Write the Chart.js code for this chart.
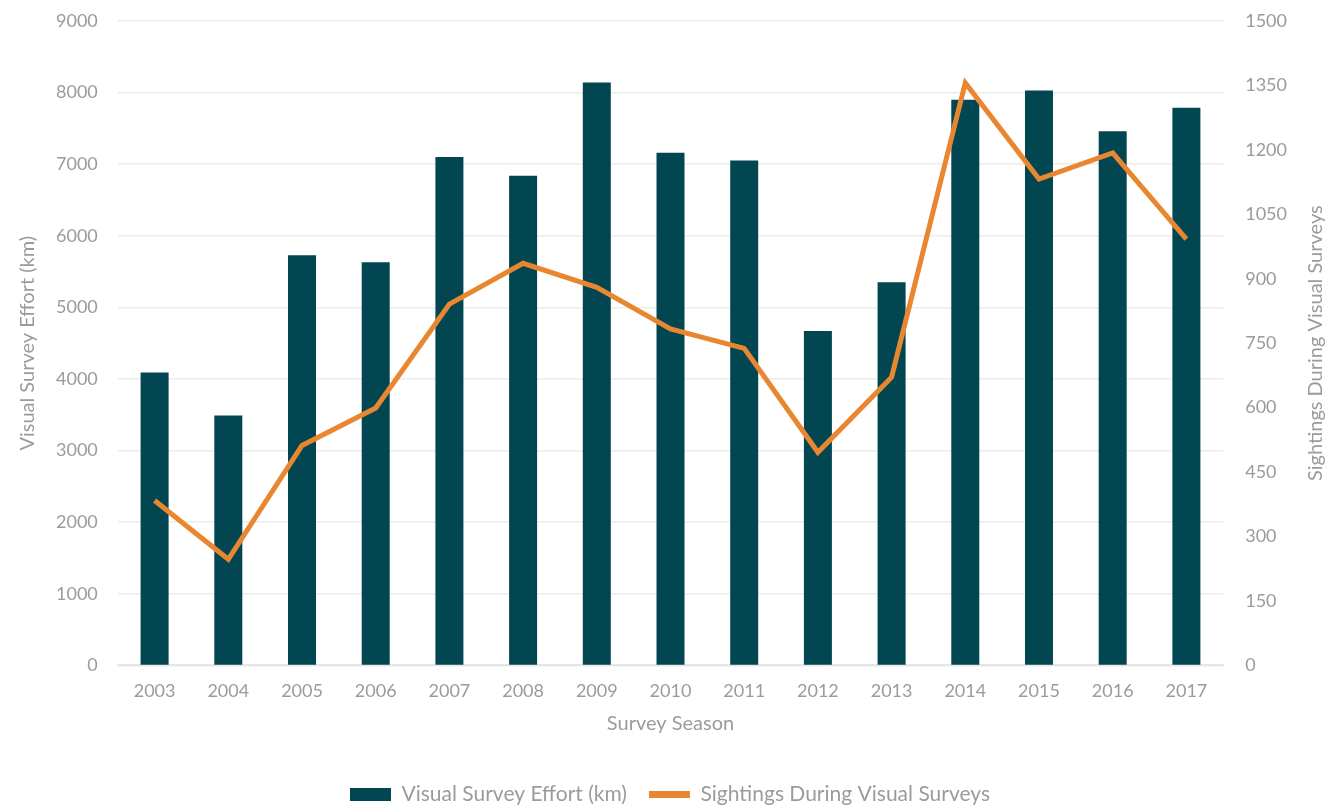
<!DOCTYPE html>
<html>
<head>
<meta charset="utf-8">
<script src="https://cdn.jsdelivr.net/npm/chart.js@4/dist/chart.umd.min.js"></script>
<style>
  html, body { margin: 0; padding: 0; background: #fff; }
  #wrap { width: 1326px; height: 806px; }
</style>
</head>
<body>
<div id="wrap"><canvas id="combo-chart"></canvas></div>
<script>
const seasons = ['2003', '2004', '2005', '2006', '2007', '2008', '2009', '2010', '2011', '2012', '2013', '2014', '2015', '2016', '2017'];
const effortKm = [4090, 3490, 5730, 5630, 7100, 6840, 8140, 7160, 7050, 4670, 5350, 7900, 8030, 7460, 7790];
const sightings = [384, 247, 512, 599, 841, 936, 880, 783, 738, 496, 671, 1356, 1132, 1193, 992];

const textGray = '#9b9b9b';
const fontFamily = 'Lato, "Open Sans", sans-serif';
const rightTitle = 'Sightings During Visual Surveys';

// right axis title reads bottom-to-top in the original, so draw it here
const rightTitlePlugin = {
    id: 'rightTitle',
    afterDraw(chart) {
        const ctx = chart.ctx;
        const area = chart.chartArea;
        ctx.save();
        ctx.translate(1316, (area.top + area.bottom) / 2);
        ctx.rotate(-Math.PI / 2);
        ctx.fillStyle = textGray;
        ctx.font = '20px ' + fontFamily;
        ctx.textAlign = 'center';
        ctx.textBaseline = 'middle';
        ctx.fillText(rightTitle, 0, 0);
        ctx.restore();
    }
};

const data = {
    labels: seasons,
    datasets: [
        {
            type: 'line',
            label: 'Sightings During Visual Surveys',
            data: sightings,
            yAxisID: 'y2',
            borderColor: '#e8872f',
            backgroundColor: '#e8872f',
            borderWidth: 5,
            pointRadius: 0,
            tension: 0,
            order: 0
        },
        {
            type: 'bar',
            label: 'Visual Survey Effort (km)',
            data: effortKm,
            yAxisID: 'y',
            backgroundColor: '#024652',
            barPercentage: 0.38,
            categoryPercentage: 1,
            order: 1
        }
    ]
};

const config = {
    data: data,
    plugins: [rightTitlePlugin],
    options: {
        responsive: true,
        maintainAspectRatio: false,
        animation: false,
        layout: { padding: { top: 21, left: 14, right: 0, bottom: -9 } },
        plugins: {
            tooltip: { enabled: false },
            legend: {
                position: 'bottom',
                reverse: true,
                labels: {
                    color: textGray,
                    font: { family: fontFamily, size: 21 },
                    usePointStyle: true,
                    pointStyleWidth: 41,
                    boxHeight: 13,
                    padding: 22,
                    generateLabels: function (chart) {
                        const items = Chart.defaults.plugins.legend.labels.generateLabels(chart);
                        items.forEach(function (item) {
                            if (item.datasetIndex === 0) {
                                item.pointStyle = 'line';
                                item.lineWidth = 7;
                                item.strokeStyle = '#e8872f';
                            } else {
                                item.pointStyle = 'rect';
                                item.lineWidth = 0;
                            }
                        });
                        return items;
                    }
                }
            }
        },
        scales: {
            x: {
                grid: { display: false },
                border: { color: '#e6e6e6', width: 2 },
                ticks: { color: textGray, font: { family: fontFamily, size: 18 }, padding: 7 },
                title: { display: true, text: 'Survey Season', color: textGray, font: { family: fontFamily, size: 20 }, padding: { top: 3, bottom: 26 } }
            },
            y: {
                position: 'left',
                min: 0,
                max: 9000,
                ticks: { stepSize: 1000, color: textGray, font: { family: fontFamily, size: 18 }, padding: 0, callback: v => String(v) },
                grid: { color: '#ececec', lineWidth: 1.5, drawTicks: true, tickLength: 20, tickColor: 'rgba(0,0,0,0)' },
                border: { display: false },
                title: { display: true, text: 'Visual Survey Effort (km)', color: textGray, font: { family: fontFamily, size: 20 }, padding: { top: 2, bottom: 16 } }
            },
            y2: {
                position: 'right',
                min: 0,
                max: 1500,
                ticks: { stepSize: 150, color: textGray, font: { family: fontFamily, size: 18 }, padding: 0, callback: v => String(v) },
                grid: { display: false, drawTicks: true, tickLength: 22, tickColor: 'rgba(0,0,0,0)' },
                border: { display: false },
                // leave room for the hand-drawn title on the far right
                afterFit: function (scale) { scale.width += 39; }
            }
        }
    }
};

const comboChart = document.querySelector('#combo-chart');
if (comboChart) {
    new Chart(comboChart, config);
}
</script>
</body>
</html>
